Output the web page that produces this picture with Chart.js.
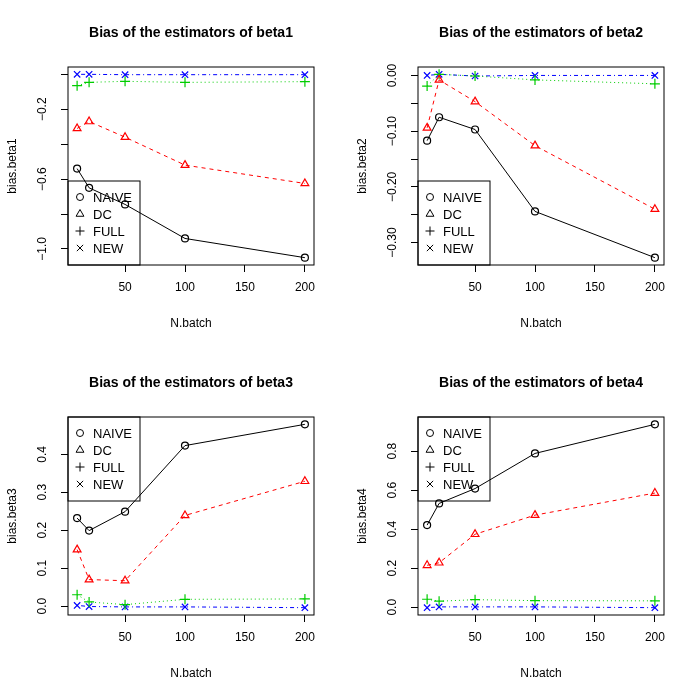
<!DOCTYPE html>
<html><head><meta charset="utf-8">
<script src="https://cdn.jsdelivr.net/npm/chart.js@4"></script>
<style>
body{margin:0;background:#fff;}
#wrap{position:relative;width:700px;height:700px;}
.p{position:absolute;width:350px;height:350px;}
canvas{width:350px!important;height:350px!important;}
</style></head><body>
<div id="wrap">
<div class="p" style="left:0;top:0"><canvas id="c1"></canvas></div>
<div class="p" style="left:350px;top:0"><canvas id="c2"></canvas></div>
<div class="p" style="left:0;top:350px"><canvas id="c3"></canvas></div>
<div class="p" style="left:350px;top:350px"><canvas id="c4"></canvas></div>
</div>
<script>
const seriesNames = ['NAIVE','DC','FULL','NEW'];
const xBatch = [10,20,50,100,200];
const xTicks = [50,100,150,200];

const naive1 = [-0.54,-0.65,-0.745,-0.94,-1.05];
const dc1    = [-0.31,-0.27,-0.36,-0.52,-0.625];
const full1  = [-0.065,-0.046,-0.04,-0.046,-0.042];
const new1   = [0.0,0.0,-0.002,-0.002,-0.002];
const yTicks1 = [-1.0,-0.8,-0.6,-0.4,-0.2,0.0];
const yLabels1 = ['\u22121.0','','\u22120.6','','\u22120.2',''];

const naive2 = [-0.117,-0.075,-0.097,-0.244,-0.327];
const dc2    = [-0.094,-0.008,-0.047,-0.126,-0.24];
const full2  = [-0.019,0.002,-0.001,-0.008,-0.015];
const new2   = [0.0,0.002,-0.001,0.0,0.0];
const yTicks2 = [-0.30,-0.25,-0.20,-0.15,-0.10,-0.05,0.00];
const yLabels2 = ['\u22120.30','','\u22120.20','','\u22120.10','','0.00'];

const naive3 = [0.232,0.199,0.249,0.423,0.479];
const dc3    = [0.149,0.070,0.067,0.239,0.329];
const full3  = [0.030,0.011,0.004,0.018,0.019];
const new3   = [0.002,-0.001,-0.002,-0.002,-0.004];
const yTicks3 = [0.0,0.1,0.2,0.3,0.4];
const yLabels3 = ['0.0','0.1','0.2','0.3','0.4'];

const naive4 = [0.421,0.532,0.608,0.788,0.937];
const dc4    = [0.215,0.228,0.374,0.472,0.585];
const full4  = [0.041,0.031,0.039,0.034,0.033];
const new4   = [-0.002,0.002,0.002,0.002,-0.002];
const yTicks4 = [0.0,0.2,0.4,0.6,0.8];
const yLabels4 = ['0.0','0.2','0.4','0.6','0.8'];

const FONT = '"Liberation Sans", Arial, sans-serif';
const colors = ['#000000','#FF0000','#00CD00','#0000FF'];
const styles = ['circle','triangle','cross','crossRot'];
const dashes = [[],[4,4],[1,3],[1,3,4,3]];
const radii = [3.5,4.5,5,4.5];

function drawSym(ctx, style, x, y, r){
  ctx.beginPath();
  if(style==='circle'){ctx.arc(x,y,r,0,Math.PI*2);}
  else if(style==='triangle'){ctx.moveTo(x,y-r);ctx.lineTo(x+r*0.87,y+r*0.5);ctx.lineTo(x-r*0.87,y+r*0.5);ctx.closePath();}
  else if(style==='cross'){ctx.moveTo(x-r,y);ctx.lineTo(x+r,y);ctx.moveTo(x,y-r);ctx.lineTo(x,y+r);}
  else {const d=r*0.7;ctx.moveTo(x-d,y-d);ctx.lineTo(x+d,y+d);ctx.moveTo(x+d,y-d);ctx.lineTo(x-d,y+d);}
  ctx.stroke();
}

function makeChart(id, title, yName, series, yTicks, yLabels, legendPos){
  const all = series.flat();
  const lo = Math.min(...all), hi = Math.max(...all), pad=(hi-lo)*0.04;
  const datasets = series.map((vals,i)=>({
    label: seriesNames[i],
    data: xBatch.map((x,j)=>({x:x,y:vals[j]})),
    showLine:true, borderColor:colors[i], borderWidth:1, borderDash:dashes[i],
    pointStyle:styles[i], pointRadius:radii[i], pointBorderColor:colors[i],
    pointBackgroundColor:'rgba(0,0,0,0)', pointBorderWidth:1.2, pointHoverRadius:radii[i]
  }));
  const deco = {
    id:'deco',
    afterDatasetsDraw(chart){
      const ctx=chart.ctx, a=chart.chartArea, ys=chart.scales.y;
      ctx.save();
      ctx.strokeStyle='#000'; ctx.lineWidth=1; ctx.setLineDash([]);
      ctx.strokeRect(a.left,a.top,a.right-a.left,a.bottom-a.top);
      ctx.fillStyle='#000';
      ctx.font='bold 14px '+FONT; ctx.textAlign='center'; ctx.textBaseline='middle';
      ctx.fillText(title,(a.left+a.right)/2,33);
      ctx.font='12px '+FONT;
      ctx.fillText('N.batch',(a.left+a.right)/2,324);
      ctx.save(); ctx.translate(13,(a.top+a.bottom)/2); ctx.rotate(-Math.PI/2);
      ctx.fillText(yName,0,0); ctx.restore();
      yTicks.forEach((v,i)=>{ if(!yLabels[i]) return;
        ctx.save(); ctx.translate(a.left-25, ys.getPixelForValue(v)); ctx.rotate(-Math.PI/2);
        ctx.fillText(yLabels[i],0,0); ctx.restore(); });
      // legend
      const bw=72,bh=84, bx=a.left, by = legendPos==='bottom'? a.bottom-bh : a.top;
      ctx.strokeRect(bx,by,bw,bh);
      ctx.textAlign='left'; ctx.font='13px '+FONT;
      seriesNames.forEach((n,i)=>{
        const yy=by+16+i*17;
        ctx.strokeStyle='#000'; drawSym(ctx,styles[i],bx+12,yy,i===0?3.5:4.5);
        ctx.fillText(n,bx+25,yy+1);
      });
      ctx.restore();
    }
  };
  new Chart(document.getElementById(id),{
    type:'scatter',
    data:{datasets},
    options:{
      responsive:false, animation:false, devicePixelRatio:1,
      layout:{padding:{top:67,right:36,left:0,bottom:0}},
      plugins:{legend:{display:false},tooltip:{enabled:false}},
      scales:{
        x:{type:'linear',min:2.4,max:207.6,
          afterBuildTicks:s=>{s.ticks=xTicks.map(v=>({value:v}));},
          afterFit:s=>{s.height=85;},
          grid:{drawOnChartArea:false,tickLength:7,color:'#000'},
          border:{display:false},
          ticks:{color:'#000',font:{family:FONT,size:12},padding:8,maxRotation:0,autoSkip:false}},
        y:{type:'linear',min:lo-pad,max:hi+pad,
          afterBuildTicks:s=>{s.ticks=yTicks.map(v=>({value:v}));},
          afterFit:s=>{s.width=68;},
          grid:{drawOnChartArea:false,tickLength:7,color:'#000'},
          border:{display:false},
          ticks:{callback:()=>'',autoSkip:false}}
      }
    },
    plugins:[deco]
  });
}
['c1','c2','c3','c4'].forEach(id=>{const c=document.getElementById(id);c.width=350;c.height=350;});
makeChart('c1','Bias of the estimators of beta1','bias.beta1',[naive1,dc1,full1,new1],yTicks1,yLabels1,'bottom');
makeChart('c2','Bias of the estimators of beta2','bias.beta2',[naive2,dc2,full2,new2],yTicks2,yLabels2,'bottom');
makeChart('c3','Bias of the estimators of beta3','bias.beta3',[naive3,dc3,full3,new3],yTicks3,yLabels3,'top');
makeChart('c4','Bias of the estimators of beta4','bias.beta4',[naive4,dc4,full4,new4],yTicks4,yLabels4,'top');
</script>
</body></html>
